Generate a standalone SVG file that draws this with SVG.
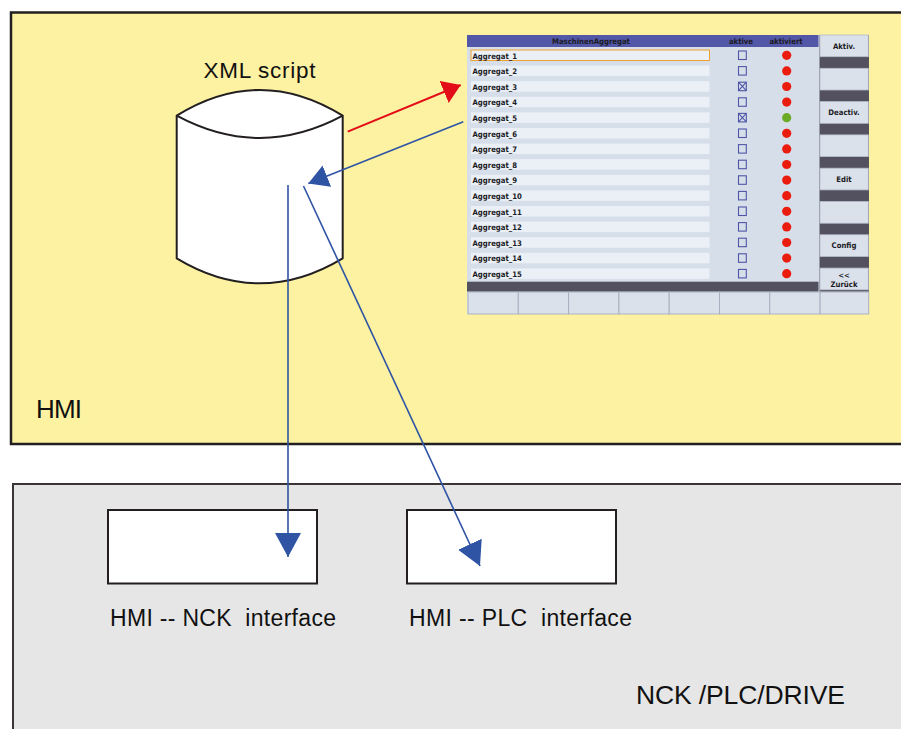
<svg xmlns="http://www.w3.org/2000/svg" width="901" height="729" viewBox="0 0 901 729">
<style>
.lbl{font-family:"Liberation Sans",Arial,sans-serif;fill:#111;}
.box{stroke:#231f20;stroke-width:2;}
.blue{stroke:#2f54a4;stroke-width:1.6;fill:none;}
.red{stroke:#e30d17;stroke-width:2;fill:none;}
.tiny{font-family:"DejaVu Sans Condensed","DejaVu Sans",sans-serif;font-weight:bold;font-size:7.7px;fill:#1a1a24;}
.field{fill:#ebf0f7;}
.cb{fill:none;stroke:#4f56a6;stroke-width:1.1;}
.btn{fill:#dbe1eb;stroke:#b4bccb;stroke-width:0.8;}
.sk{fill:#dbe1eb;stroke:#a9b1c1;stroke-width:1;}
</style>
<defs>
<marker id="headBig" viewBox="0 0 24 26" refX="24" refY="13" markerWidth="24" markerHeight="26" markerUnits="userSpaceOnUse" orient="auto"><path d="M0,0 L24,13 L0,26 Z" fill="#2f54a4"/></marker>
<marker id="headSmall" viewBox="0 0 20 23" refX="20" refY="11.5" markerWidth="20" markerHeight="23" markerUnits="userSpaceOnUse" orient="auto"><path d="M0,0 L20,11.5 L0,23 Z" fill="#2f54a4"/></marker>
<marker id="headRed" viewBox="0 0 18 24" refX="18" refY="12" markerWidth="18" markerHeight="24" markerUnits="userSpaceOnUse" orient="auto"><path d="M0,0 L18,12 L0,24 Z" fill="#e30d17"/></marker>
</defs>
<rect width="901" height="729" fill="#ffffff"/>

<g id="hmi">
<rect x="11" y="12.5" width="900" height="431.5" fill="#fdf2a2" stroke="#231f20" stroke-width="2.5"/>
<text class="lbl" x="36" y="417.5" font-size="26" textLength="46">HMI</text>
</g>

<g id="nck">
<rect x="13" y="484" width="900" height="260" fill="#e6e6e6" stroke="#3a3435" stroke-width="2"/>
<text class="lbl" x="636" y="703.5" font-size="26.5" textLength="209">NCK /PLC/DRIVE</text>
</g>

<g id="xml-script">
<path class="box" fill="#ffffff" d="M176.7,115.7 Q259.7,64.3 342.7,115.7 L342.7,258.3 Q259.7,308.3 176.7,258.3 Z"/>
<path class="box" fill="none" d="M176.7,115.7 Q259.7,160.3 342.7,115.7"/>
<text class="lbl" x="203.5" y="77.5" font-size="22.5" textLength="112">XML script</text>
</g>

<g id="nck-interface">
<rect class="box" x="108" y="510" width="209" height="73.5" fill="#ffffff"/>
<text class="lbl" x="110" y="625.5" font-size="23" textLength="226" xml:space="preserve">HMI -- NCK  interface</text>
</g>

<g id="plc-interface">
<rect class="box" x="407" y="510" width="209" height="73.5" fill="#ffffff"/>
<text class="lbl" x="409" y="625.5" font-size="23" textLength="223" xml:space="preserve">HMI -- PLC  interface</text>
</g>

<g id="screen">
<rect x="467" y="35" width="402" height="279" fill="#d6deea"/>
<rect x="467" y="35" width="351.5" height="12" fill="#5257a7"/>
<text class="tiny" x="591" y="44.3" text-anchor="middle">MaschinenAggregat</text>
<text class="tiny" x="741" y="44.3" text-anchor="middle">aktive</text>
<text class="tiny" x="786" y="44.3" text-anchor="middle">aktiviert</text>

<g id="rows">
<rect class="field" x="471" y="50" width="238.5" height="10.5" stroke="#f0a030" stroke-width="1"/>
<rect class="field" x="471" y="65.6" width="238.5" height="10.5"/>
<rect class="field" x="471" y="81.2" width="238.5" height="10.5"/>
<rect class="field" x="471" y="96.8" width="238.5" height="10.5"/>
<rect class="field" x="471" y="112.4" width="238.5" height="10.5"/>
<rect class="field" x="471" y="128" width="238.5" height="10.5"/>
<rect class="field" x="471" y="143.6" width="238.5" height="10.5"/>
<rect class="field" x="471" y="159.2" width="238.5" height="10.5"/>
<rect class="field" x="471" y="174.8" width="238.5" height="10.5"/>
<rect class="field" x="471" y="190.4" width="238.5" height="10.5"/>
<rect class="field" x="471" y="206" width="238.5" height="10.5"/>
<rect class="field" x="471" y="221.6" width="238.5" height="10.5"/>
<rect class="field" x="471" y="237.2" width="238.5" height="10.5"/>
<rect class="field" x="471" y="252.8" width="238.5" height="10.5"/>
<rect class="field" x="471" y="268.4" width="238.5" height="10.5"/>

<text class="tiny" x="472.5" y="58.5">Aggregat_1</text>
<text class="tiny" x="472.5" y="74.1">Aggregat_2</text>
<text class="tiny" x="472.5" y="89.7">Aggregat_3</text>
<text class="tiny" x="472.5" y="105.3">Aggregat_4</text>
<text class="tiny" x="472.5" y="120.9">Aggregat_5</text>
<text class="tiny" x="472.5" y="136.5">Aggregat_6</text>
<text class="tiny" x="472.5" y="152.1">Aggregat_7</text>
<text class="tiny" x="472.5" y="167.7">Aggregat_8</text>
<text class="tiny" x="472.5" y="183.3">Aggregat_9</text>
<text class="tiny" x="472.5" y="198.9">Aggregat_10</text>
<text class="tiny" x="472.5" y="214.5">Aggregat_11</text>
<text class="tiny" x="472.5" y="230.1">Aggregat_12</text>
<text class="tiny" x="472.5" y="245.7">Aggregat_13</text>
<text class="tiny" x="472.5" y="261.3">Aggregat_14</text>
<text class="tiny" x="472.5" y="276.9">Aggregat_15</text>

<rect class="cb" x="738.5" y="51" width="7.8" height="8.5"/>
<rect class="cb" x="738.5" y="66.6" width="7.8" height="8.5"/>
<rect class="cb" x="738.5" y="82.2" width="7.8" height="8.5"/>
<path class="cb" d="M738.5,82.2 L746.3,90.7 M746.3,82.2 L738.5,90.7"/>
<rect class="cb" x="738.5" y="97.8" width="7.8" height="8.5"/>
<rect class="cb" x="738.5" y="113.4" width="7.8" height="8.5"/>
<path class="cb" d="M738.5,113.4 L746.3,121.9 M746.3,113.4 L738.5,121.9"/>
<rect class="cb" x="738.5" y="129" width="7.8" height="8.5"/>
<rect class="cb" x="738.5" y="144.6" width="7.8" height="8.5"/>
<rect class="cb" x="738.5" y="160.2" width="7.8" height="8.5"/>
<rect class="cb" x="738.5" y="175.8" width="7.8" height="8.5"/>
<rect class="cb" x="738.5" y="191.4" width="7.8" height="8.5"/>
<rect class="cb" x="738.5" y="207" width="7.8" height="8.5"/>
<rect class="cb" x="738.5" y="222.6" width="7.8" height="8.5"/>
<rect class="cb" x="738.5" y="238.2" width="7.8" height="8.5"/>
<rect class="cb" x="738.5" y="253.8" width="7.8" height="8.5"/>
<rect class="cb" x="738.5" y="269.4" width="7.8" height="8.5"/>

<g fill="#ea1c0e">
<circle cx="786.7" cy="55.3" r="4.6"/>
<circle cx="786.7" cy="70.9" r="4.6"/>
<circle cx="786.7" cy="86.5" r="4.6"/>
<circle cx="786.7" cy="102.1" r="4.6"/>
<circle cx="786.7" cy="133.3" r="4.6"/>
<circle cx="786.7" cy="148.9" r="4.6"/>
<circle cx="786.7" cy="164.5" r="4.6"/>
<circle cx="786.7" cy="180.1" r="4.6"/>
<circle cx="786.7" cy="195.7" r="4.6"/>
<circle cx="786.7" cy="211.3" r="4.6"/>
<circle cx="786.7" cy="226.9" r="4.6"/>
<circle cx="786.7" cy="242.5" r="4.6"/>
<circle cx="786.7" cy="258.1" r="4.6"/>
<circle cx="786.7" cy="273.7" r="4.6"/>
</g>
<circle cx="786.7" cy="117.7" r="4.6" fill="#6cab25"/>
</g>

<rect x="467" y="281.7" width="351.5" height="10" fill="#535060"/>
<rect x="819.5" y="35" width="49.5" height="256.7" fill="#535060"/>

<g id="softkeys-right">
<rect class="btn" x="820" y="35" width="48.3" height="21.7"/>
<rect class="btn" x="820" y="68.3" width="48.3" height="21.7"/>
<rect class="btn" x="820" y="101.6" width="48.3" height="21.7"/>
<rect class="btn" x="820" y="134.9" width="48.3" height="21.7"/>
<rect class="btn" x="820" y="168.2" width="48.3" height="21.7"/>
<rect class="btn" x="820" y="201.5" width="48.3" height="21.7"/>
<rect class="btn" x="820" y="234.8" width="48.3" height="21.7"/>
<rect class="btn" x="820" y="268.1" width="48.3" height="21.7"/>
<text class="tiny" x="844" y="48.5" text-anchor="middle">Aktiv.</text>
<text class="tiny" x="844" y="115.1" text-anchor="middle">Deactiv.</text>
<text class="tiny" x="844" y="181.7" text-anchor="middle">Edit</text>
<text class="tiny" x="844" y="248.3" text-anchor="middle">Config</text>
<text class="tiny" x="844" y="278" text-anchor="middle" fill="#2a2f8f" font-size="9">&lt;&lt;</text>
<text class="tiny" x="844" y="287" text-anchor="middle">Zurück</text>
</g>

<g id="softkeys-bottom">
<rect class="sk" x="468" y="292" width="50.3" height="22"/>
<rect class="sk" x="518.3" y="292" width="50.3" height="22"/>
<rect class="sk" x="568.6" y="292" width="50.3" height="22"/>
<rect class="sk" x="618.9" y="292" width="50.3" height="22"/>
<rect class="sk" x="669.2" y="292" width="50.3" height="22"/>
<rect class="sk" x="719.5" y="292" width="50.3" height="22"/>
<rect class="sk" x="769.8" y="292" width="50.3" height="22"/>
<rect class="sk" x="820.1" y="292" width="48.6" height="22"/>
</g>
</g>

<g id="connectors">
<line class="red" x1="347.7" y1="131.7" x2="460.7" y2="85" marker-end="url(#headRed)"/>
<line class="blue" x1="463.3" y1="121.7" x2="308.3" y2="183.5" marker-end="url(#headSmall)"/>
<line class="blue" x1="288" y1="185" x2="288" y2="557" marker-end="url(#headBig)"/>
<line class="blue" x1="303.5" y1="186" x2="480" y2="566" marker-end="url(#headBig)"/>
</g>
</svg>
